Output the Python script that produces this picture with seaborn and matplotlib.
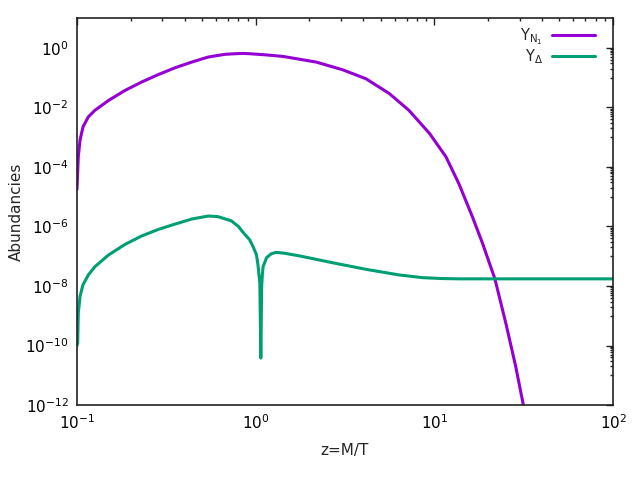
import numpy as np
import pandas as pd
import matplotlib
matplotlib.use("Agg")
import matplotlib.pyplot as plt
import matplotlib.ticker as mticker
import seaborn as sns

# valori (esponenti in base 10)
z_n1 = [0.1, 0.1017, 0.104, 0.108, 0.1157, 0.126, 0.150, 0.186, 0.230, 0.285,
        0.354, 0.439, 0.543, 0.673, 0.764, 0.85, 0.926, 1.15, 1.42, 2.18,
        3.07, 4.14, 5.6, 7.2, 9.4, 11.6, 13.7, 16.3, 18.6, 21.8,
        25.1, 28.5, 31.3, 32.0]
log_n1 = [-4.75, -3.66, -3.1, -2.66, -2.32, -2.10, -1.77, -1.43, -1.15, -0.90,
          -0.67, -0.48, -0.31, -0.22, -0.20, -0.19, -0.20, -0.24, -0.29, -0.48,
          -0.74, -1.04, -1.54, -2.10, -2.88, -3.66, -4.56, -5.67, -6.57, -7.76,
          -9.25, -10.70, -11.93, -12.3]

z_delta = [0.1, 0.1009, 0.1017, 0.104, 0.108, 0.1157, 0.126, 0.150, 0.186, 0.230,
           0.285, 0.354, 0.439, 0.543, 0.614, 0.73, 0.80, 0.85, 0.926, 0.97,
           1.01, 1.03, 1.055, 1.068, 1.08, 1.09, 1.10, 1.15, 1.22, 1.30,
           1.45, 1.76, 2.70, 4.14, 6.37, 8.6, 11.1, 14.0, 100.0]
log_delta = [-10.0, -9.92, -8.91, -8.35, -7.96, -7.63, -7.35, -6.96, -6.60, -6.32,
             -6.10, -5.92, -5.75, -5.65, -5.67, -5.81, -6.0, -6.2, -6.45, -6.7,
             -6.95, -7.3, -7.9, -10.42, -8.0, -7.6, -7.35, -7.05, -6.92, -6.87,
             -6.9, -6.99, -7.22, -7.44, -7.63, -7.72, -7.75, -7.76, -7.76]

lab_n1 = r"$\mathregular{Y_{N_1}}$"
lab_delta = r"$\mathregular{Y_{\Delta}}$"
palette = {lab_n1: "#9400D3", lab_delta: "#009E73"}

df = pd.concat([
    pd.DataFrame({"z": z_n1, "Y": 10.0 ** np.array(log_n1), "serie": lab_n1}),
    pd.DataFrame({"z": z_delta, "Y": 10.0 ** np.array(log_delta), "serie": lab_delta}),
])

sns.set_style("white")
plt.rcParams["font.family"] = ["DejaVu Sans"]
plt.rcParams["font.size"] = 11

fig = plt.figure(figsize=(6.4, 4.8), dpi=100)
ax = fig.add_axes([0.1203, 0.156, 0.8377, 0.8065])

sns.lineplot(data=df, x="z", y="Y", hue="serie", palette=palette,
             estimator=None, sort=False, linewidth=2.2, ax=ax)

ax.set_xscale("log")
ax.set_yscale("log")
ax.set_xlim(0.1, 100)
ax.set_ylim(1e-12, 1e1)

ax.yaxis.set_major_locator(mticker.FixedLocator([10.0 ** e for e in range(-12, 1, 2)]))
ax.yaxis.set_minor_locator(mticker.FixedLocator([k * 10.0 ** e for e in range(-11, 0, 2) for k in range(1, 10)]))
ax.yaxis.set_minor_formatter(mticker.NullFormatter())
ax.xaxis.set_minor_locator(mticker.LogLocator(base=10, subs=range(2, 10)))
ax.xaxis.set_minor_formatter(mticker.NullFormatter())

ax.tick_params(which="both", direction="in", top=True, right=True, colors="#222222",
               labelcolor="black", labelsize=11)
ax.tick_params(which="major", length=5, width=1, pad=6)
ax.tick_params(which="minor", length=2.5, width=1)
for s in ax.spines.values():
    s.set_visible(True)
    s.set_color("#222222")
    s.set_linewidth(1.2)

ax.set_xlabel("z=M/T", fontsize=11, labelpad=8)
ax.set_ylabel("Abundancies", fontsize=11, labelpad=1)

ax.legend(loc="upper right", bbox_to_anchor=(0.978, 0.993), frameon=False,
          markerfirst=False, handlelength=3.0, handletextpad=0.6,
          labelspacing=0.0, borderaxespad=0.0, fontsize=10.5)

fig.savefig("out.png", dpi=100)
